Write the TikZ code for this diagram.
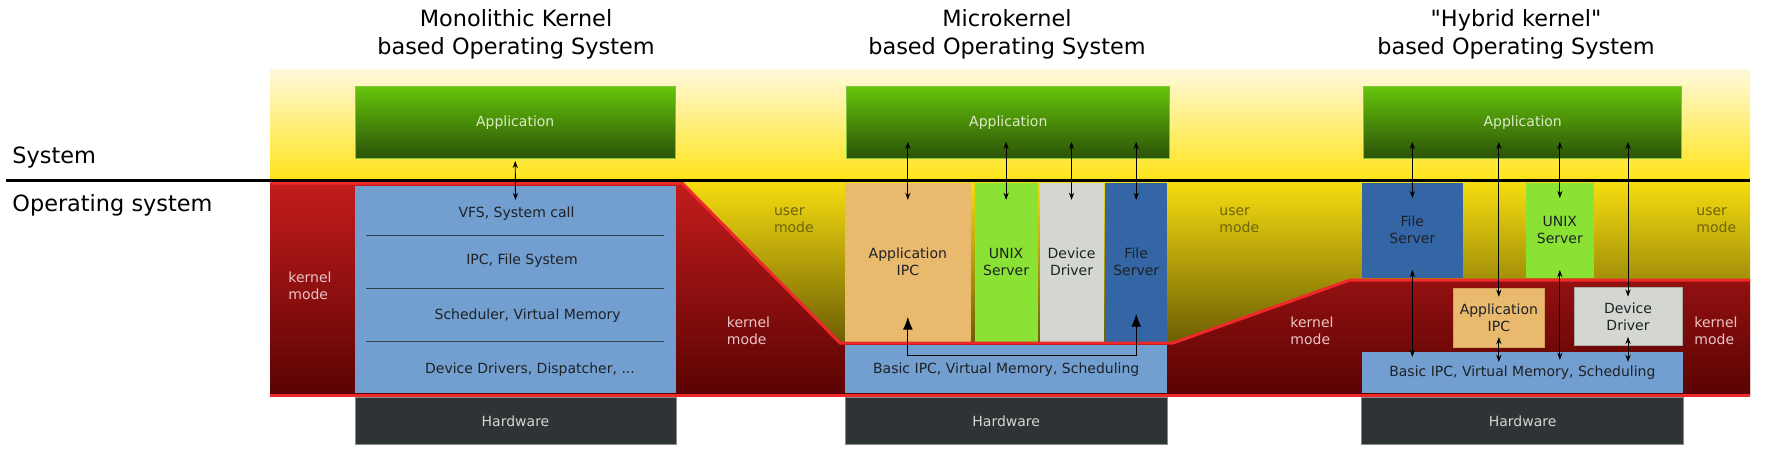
\documentclass[tikz,border=0pt]{standalone}
\usepackage{fontspec}
\setmainfont{DejaVu Sans}
\newfontfamily\osplain{DejaVu Sans}
\usepackage{xcolor}
\usepackage{tikz}
\usetikzlibrary{arrows.meta, calc}
\definecolor{bgtop}{RGB}{255,249,220}
\definecolor{bgyellow}{RGB}{255,228,25}
\definecolor{usertop}{RGB}{247,222,16}
\definecolor{userbot}{RGB}{64,53,0}
\definecolor{kerntop}{RGB}{196,28,28}
\definecolor{kernbot}{RGB}{90,3,3}
\definecolor{redline}{RGB}{239,41,41}
\definecolor{apptop}{RGB}{102,196,10}
\definecolor{appbot}{RGB}{42,82,8}
\definecolor{appedge}{RGB}{124,198,64}
\definecolor{apptext}{RGB}{221,235,196}
\definecolor{kblue}{RGB}{114,159,207}
\definecolor{sepdark}{RGB}{52,64,76}
\definecolor{hwdark}{RGB}{46,52,54}
\definecolor{hwedge}{RGB}{136,138,133}
\definecolor{hwtext}{RGB}{211,215,207}
\definecolor{ipctan}{RGB}{233,185,110}
\definecolor{ipcedge}{RGB}{214,160,90}
\definecolor{unixgreen}{RGB}{138,226,52}
\definecolor{devgrey}{RGB}{211,215,207}
\definecolor{devedge}{RGB}{170,172,166}
\definecolor{fsblue}{RGB}{52,101,164}
\definecolor{usertext}{RGB}{111,100,8}
\definecolor{kerntext}{RGB}{235,197,197}
\definecolor{inkdark}{RGB}{30,33,38}
\newcommand{\osTitle}{\fontsize{11.2}{14}\selectfont}
\newcommand{\osSmall}{\fontsize{7}{8.5}\selectfont}
\tikzset{
  osbox/.style={rectangle, inner sep=0pt, outer sep=0pt, align=center, font=\osSmall},
  boxsize/.style 2 args={minimum width=#1, minimum height=#2},
  appbox/.style={osbox, top color=apptop, bottom color=appbot, draw=appedge, line width=0.5pt, text=apptext},
  kernbox/.style={osbox, fill=kblue, text=inkdark},
  hwbox/.style={osbox, fill=hwdark, draw=hwedge, line width=0.5pt, text=hwtext},
  ipcbox/.style={osbox, fill=ipctan, text=inkdark},
  unixbox/.style={osbox, fill=unixgreen, text=inkdark},
  devbox/.style={osbox, fill=devgrey, text=inkdark},
  fsbox/.style={osbox, fill=fsblue, text=inkdark},
  usertxt/.style={anchor=west, align=left, inner sep=0pt, font=\osSmall, text=usertext},
  kerntxt/.style={anchor=west, align=left, inner sep=0pt, font=\osSmall, text=kerntext},
  sidetxt/.style={anchor=west, inner sep=0pt, font=\osTitle},
  titletxt/.style={align=center, font=\osTitle},
  layertxt/.style={font=\osSmall, text=inkdark},
  sepline/.style={color=sepdark, line width=0.7pt},
  modeline/.style={color=redline, line width=1.5pt, line join=miter},
  biarrow/.style={{Stealth[length=3.6pt,width=2.6pt]}-{Stealth[length=3.6pt,width=2.6pt]}, line width=0.45pt, color=black},
  bigarrow/.style={{Latex[length=6.5pt,width=5pt]}-{Latex[length=6.5pt,width=5pt]}, line width=0.6pt, color=black}
}

\begin{document}
\begin{tikzpicture}[x=0.5pt, y=-0.5pt]
  \useasboundingbox (0,0) rectangle (1769,462);

  % Background: system (top) and user mode
  \shade[top color=bgtop, bottom color=bgyellow] (270,69) rectangle (1750,180);
  \shade[top color=usertop, bottom color=userbot] (270,180) rectangle (1750,395);

  % Kernel mode area
  \shade[top color=kerntop, bottom color=kernbot] (270,183) -- (682,183) -- (840,343) -- (1173,343)
    -- (1350,280) -- (1750,280) -- (1750,395) -- (270,395) -- cycle;

  % Titles
  \node[titletxt] (tMono) at (516,34) {Monolithic Kernel\\based Operating System};
  \node[titletxt] (tMicro) at (1007,34) {Microkernel\\based Operating System};
  \node[titletxt] (tHybrid) at (1516,34) {{\osplain"Hybrid kernel"}\\based Operating System};

  % Side labels
  \node[sidetxt] (lSys) at (12,158) {System};
  \node[sidetxt] (lOS) at (12,205) {Operating system};

  % Monolithic kernel
  \node[appbox, boxsize={160.2pt}{36pt}] (mApp) at (515.2,122.7) {Application};
  \node[kernbox, boxsize={160.5pt}{103.5pt}] (mKernel) at (515.5,289.5) {};
  \foreach \y in {235.7,288.3,341.7}
    \draw[sepline] (366,\y) -- (664,\y);
  \node[layertxt] (mVFS) at (516.5,213.3) {VFS, System call};
  \node[layertxt] (mIPC) at (522,261) {IPC, File System};
  \node[layertxt] (mSched) at (527.7,316) {Scheduler, Virtual Memory};
  \node[layertxt] (mDrv) at (530,369.3) {Device Drivers, Dispatcher, ...};
  \node[hwbox, boxsize={160.5pt}{23.15pt}] (mHw) at (515.5,420.85) {Hardware};
  \node[kerntxt] (mKm) at (288,286) {kernel\\mode};

  % Microkernel
  \node[appbox, boxsize={161.35pt}{36pt}] (uApp) at (1008.3,122.7) {Application};
  \node[ipcbox, boxsize={62.85pt}{79.5pt}] (uIPC) at (907.85,262.2) {Application\\IPC};
  \node[unixbox, boxsize={31.6pt}{79.5pt}] (uUnix) at (1006.1,262.2) {UNIX\\Server};
  \node[devbox, boxsize={31.95pt}{79.5pt}] (uDev) at (1071.55,262.2) {Device\\Driver};
  \node[fsbox, boxsize={31.2pt}{79.5pt}] (uFS) at (1136.2,262.2) {File\\Server};
  \node[kernbox, boxsize={161.2pt}{24.15pt}] (uBasic) at (1006.2,369.15) {Basic IPC, Virtual Memory, Scheduling};
  \node[hwbox, boxsize={161.2pt}{23.15pt}] (uHw) at (1006.2,420.85) {Hardware};
  \node[usertxt] (uUm) at (773.6,220.5) {user\\mode};
  \node[kerntxt] (uKm) at (726.5,331) {kernel\\mode};

  % Hybrid kernel
  \node[appbox, boxsize={159.1pt}{36pt}] (hApp) at (1522.7,122.7) {Application};
  \node[fsbox, boxsize={50.65pt}{47.5pt}] (hFS) at (1412.35,230.2) {File\\Server};
  \node[unixbox, boxsize={34.15pt}{47.65pt}] (hUnix) at (1559.85,230.35) {UNIX\\Server};
  \node[ipcbox, draw=ipcedge, line width=0.5pt, boxsize={45.85pt}{29.5pt}] (hIPC) at (1498.85,317.5) {Application\\IPC};
  \node[devbox, draw=devedge, line width=0.5pt, boxsize={54pt}{29.35pt}] (hDev) at (1628,316.35) {Device\\Driver};
  \node[kernbox, boxsize={160.65pt}{20.5pt}] (hBasic) at (1522.35,372.5) {Basic IPC, Virtual Memory, Scheduling};
  \node[hwbox, boxsize={161.05pt}{23.15pt}] (hHw) at (1522.65,420.85) {Hardware};
  \node[usertxt] (hUm) at (1219,220.5) {user\\mode};
  \node[kerntxt] (hKm) at (1290,331) {kernel\\mode};
  \node[usertxt] (hUm2) at (1696,220.5) {user\\mode};
  \node[kerntxt] (hKm2) at (1694,331) {kernel\\mode};

  % Mode borders
  \draw[modeline] (270,183) -- (682,183) -- (840,343) -- (1173,343) -- (1350,280) -- (1750,280);
  \draw[modeline] (270,395) -- (1750,395);
  \draw[line width=1.5pt] (6,180.5) -- (1750,180.5);

  % Calls: monolithic
  \draw[biarrow] ($(mApp.south)+(0,-1.1pt)$) -- ($(mKernel.north)+(0,-7pt)$);

  % Calls: microkernel
  \foreach \n in {uIPC, uUnix, uDev, uFS}
    \draw[biarrow] ($(uApp.south -| \n.north)+(0,8.4pt)$) -- ($(\n.north)+(0,-8.6pt)$);
  \draw[bigarrow] ($(uIPC.south)+(0,12.5pt)$) |- ($(uFS.south)+(0,-6.7pt)$) -- ($(uFS.south)+(0,14pt)$);

  % Calls: hybrid kernel
  \draw[biarrow] ($(hApp.south -| hFS.north)+(0,8.4pt)$) -- ($(hFS.north)+(0,-7.7pt)$);
  \draw[biarrow] ($(hApp.south -| hUnix.north)+(0,8.4pt)$) -- ($(hUnix.north)+(0,-7.7pt)$);
  \draw[biarrow] ($(hApp.south -| hIPC.north)+(0,8.4pt)$) -- ($(hIPC.north)+(0,-4.4pt)$);
  \draw[biarrow] ($(hApp.south -| hDev.north)+(0,8.4pt)$) -- ($(hDev.north)+(0,-4.8pt)$);
  \draw[biarrow] ($(hFS.south)+(0,3.9pt)$) -- ($(hBasic.north -| hFS.south)+(0,-2.5pt)$);
  \draw[biarrow] ($(hUnix.south)+(0,4pt)$) -- ($(hBasic.north -| hUnix.south)+(0,-4pt)$);
  \draw[biarrow] ($(hIPC.south)+(0,5pt)$) -- ($(hBasic.north -| hIPC.south)+(0,-5pt)$);
  \draw[biarrow] ($(hDev.south)+(0,4.4pt)$) -- ($(hBasic.north -| hDev.south)+(0,-5pt)$);
\end{tikzpicture}
\end{document}
